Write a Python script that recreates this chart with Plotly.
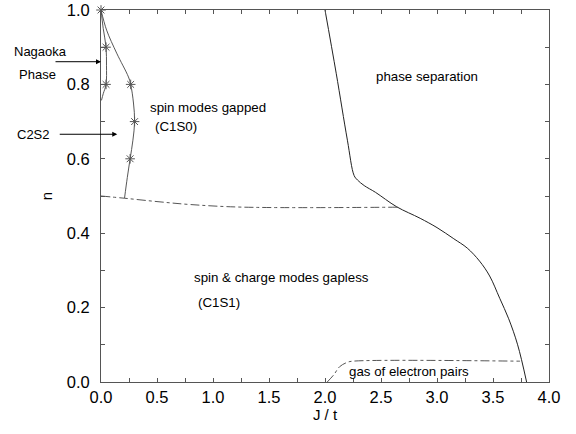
import plotly.graph_objects as go

# Data (J/t, n)
nagaoka_J = [0.0, 0.02, 0.045, 0.049, 0.045, 0.02, 0.004]
nagaoka_n = [1.0, 0.95, 0.90, 0.85, 0.80, 0.775, 0.757]

c2s2_J = [0.0, 0.05, 0.14, 0.245, 0.265, 0.29, 0.30, 0.285, 0.26, 0.235, 0.21]
c2s2_n = [1.0, 0.946, 0.884, 0.82, 0.80, 0.75, 0.70, 0.65, 0.60, 0.55, 0.494]

star_J = [0.0, 0.045, 0.045, 0.265, 0.30, 0.26]
star_n = [1.0, 0.90, 0.80, 0.80, 0.70, 0.60]

gap_J = [0.0, 0.21, 0.5, 0.8, 1.27, 2.67]
gap_n = [0.50, 0.494, 0.485, 0.477, 0.470, 0.470]

phsep_J = [2.0, 2.1, 2.2, 2.26, 2.29, 2.35, 2.45, 2.64, 2.85, 3.0, 3.15, 3.27, 3.38, 3.47, 3.56, 3.64, 3.72, 3.80]
phsep_n = [1.0, 0.83, 0.65, 0.555, 0.543, 0.528, 0.51, 0.471, 0.44, 0.415, 0.385, 0.36, 0.325, 0.285, 0.225, 0.17, 0.10, 0.0]

pairs_J = [2.02, 2.08, 2.13, 2.2, 2.25, 3.74]
pairs_n = [0.0, 0.02, 0.041, 0.053, 0.056, 0.056]

x_ticks = [0.0, 0.5, 1.0, 1.5, 2.0, 2.5, 3.0, 3.5, 4.0]
y_ticks = [0.0, 0.2, 0.4, 0.6, 0.8, 1.0]

FONT = "Liberation Sans, Arial, sans-serif"
LC = "#444444"

fig = go.Figure()
fig.add_trace(go.Scatter(x=nagaoka_J, y=nagaoka_n, mode="lines", line=dict(color=LC, width=0.9, shape="spline")))
fig.add_trace(go.Scatter(x=c2s2_J, y=c2s2_n, mode="lines", line=dict(color=LC, width=0.9, shape="spline")))
fig.add_trace(go.Scatter(x=gap_J, y=gap_n, mode="lines", line=dict(color="#555555", width=1, dash="dashdot", shape="spline")))
fig.add_trace(go.Scatter(x=phsep_J, y=phsep_n, mode="lines", line=dict(color="#222222", width=1, shape="spline")))
fig.add_trace(go.Scatter(x=pairs_J, y=pairs_n, mode="lines", line=dict(color="#555555", width=1, dash="dashdot", shape="spline")))
fig.add_trace(go.Scatter(x=star_J, y=star_n, mode="markers", cliponaxis=False,
                         marker=dict(symbol="asterisk-open", size=8, color="#555555", line=dict(color="#555555", width=1))))

texts = [
    ("phase separation", 2.91, 0.82, "center"),
    ("spin modes gapped", 0.42, 0.737, "left"),
    ("(C1S0)", 0.46, 0.686, "left"),
    ("spin & charge modes gapless", 0.81, 0.28, "left"),
    ("(C1S1)", 0.85, 0.215, "left"),
    ("gas of electron pairs", 2.2, 0.027, "left"),
]
for t, x, y, xa in texts:
    fig.add_annotation(x=x, y=y, text=t, showarrow=False, xanchor=xa, yanchor="middle",
                       font=dict(family=FONT, size=13.3, color="black"))

# outside-left labels (paper coords)
fig.add_annotation(xref="paper", yref="paper", x=-0.199, y=0.888, text="Nagaoka", showarrow=False,
                   xanchor="left", yanchor="middle", font=dict(family=FONT, size=13, color="black"))
fig.add_annotation(xref="paper", yref="paper", x=-0.188, y=0.826, text="Phase", showarrow=False,
                   xanchor="left", yanchor="middle", font=dict(family=FONT, size=13, color="black"))
fig.add_annotation(xref="paper", yref="paper", x=-0.193, y=0.665, text="C2S2", showarrow=False,
                   xanchor="left", yanchor="middle", font=dict(family=FONT, size=13, color="black"))
# arrows
fig.add_annotation(x=0.0, y=0.861, ax=-47, ay=0, axref="pixel", ayref="pixel", text="", showarrow=True,
                   arrowhead=2, arrowsize=1, arrowwidth=1, arrowcolor="black")
fig.add_annotation(x=0.145, y=0.666, ax=-59, ay=0, axref="pixel", ayref="pixel", text="", showarrow=True,
                   arrowhead=2, arrowsize=1, arrowwidth=1, arrowcolor="black")

axis_common = dict(showline=True, linecolor="#555555", linewidth=1, mirror="allticks",
                   ticks="inside", ticklen=4, tickcolor="#555555", showgrid=False, zeroline=False,
                   automargin=False,
                   tickfont=dict(family=FONT, size=16.5, color="black"))
fig.update_xaxes(range=[0, 4.0], tickvals=x_ticks, ticktext=[f"{v:.1f}" for v in x_ticks],
                 minor=dict(dtick=0.25, ticks="inside", ticklen=4, tickcolor="#555555"),
                 title=dict(text="J / t", font=dict(family=FONT, size=15, color="black"), standoff=4),
                 **axis_common)
fig.update_yaxes(range=[0, 1.0], tickvals=y_ticks, ticktext=[f"{v:.1f}" for v in y_ticks],
                 minor=dict(dtick=0.1, ticks="inside", ticklen=4, tickcolor="#555555"),
                 ticklabelstandoff=7,
                 title=dict(text="n", font=dict(family=FONT, size=15, color="black"), standoff=10),
                 **axis_common)
fig.update_layout(width=576, height=434, margin=dict(l=101, r=27, t=10, b=52),
                  plot_bgcolor="white", paper_bgcolor="white", showlegend=False)

fig.write_html("out.html", config={"displayModeBar": False},
               post_script="document.body.style.margin='0';document.body.style.overflow='hidden';")
